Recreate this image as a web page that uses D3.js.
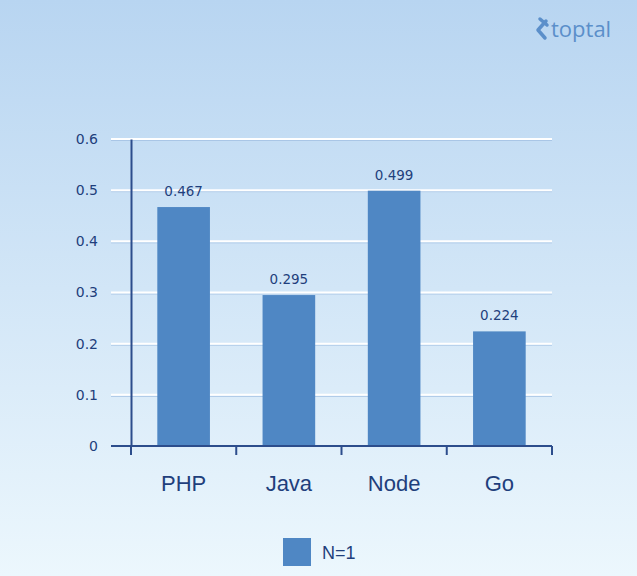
<!DOCTYPE html>
<html>
<head>
<meta charset="utf-8">
<script src="https://cdn.jsdelivr.net/npm/d3@7"></script>
<style>
  body { margin: 0; }
  svg { display: block; font-family: "DejaVu Sans", sans-serif; }
</style>
</head>
<body>
<svg id="chart"></svg>
<script>
const categories = ['PHP', 'Java', 'Node', 'Go']
const values = [0.467, 0.295, 0.499, 0.224]
const yTickValues = [0, 0.1, 0.2, 0.3, 0.4, 0.5, 0.6]
const seriesName = 'N=1'

const width = 637
const height = 576
const margin = { top: 139, right: 85, bottom: 130, left: 131 }
const w = width - margin.left - margin.right
const h = height - margin.top - margin.bottom

const barColor = '#4f87c4'
const axisColor = '#2c4d8c'
const textColor = '#1f3f7c'
const sansLabel = '"Liberation Sans", Arial, sans-serif'

const svg = d3.select('#chart')
  .attr('width', width)
  .attr('height', height)

// background gradient
const defs = svg.append('defs')
const grad = defs.append('linearGradient')
  .attr('id', 'bg')
  .attr('x1', 0).attr('y1', 0)
  .attr('x2', 0).attr('y2', 1)
grad.append('stop').attr('offset', '0%').attr('stop-color', '#b8d5f1')
grad.append('stop').attr('offset', '100%').attr('stop-color', '#ecf7fd')

svg.append('rect')
  .attr('width', width)
  .attr('height', height)
  .attr('fill', 'url(#bg)')

// logo
const logo = svg.append('g').attr('transform', 'translate(536, 30)')
logo.append('path')
  .attr('d', 'M10,-9 L2,0 L9,8 M4,-11 L11,-5')
  .attr('fill', 'none')
  .attr('stroke', '#5b8fca')
  .attr('stroke-width', 3.5)
  .attr('stroke-linecap', 'round')
  .attr('stroke-linejoin', 'round')
logo.append('text')
  .attr('x', 15)
  .attr('y', 7)
  .attr('fill', '#5b8fca')
  .attr('font-family', '"Open Sans", sans-serif')
  .attr('font-size', 22)
  .text('toptal')

const chart = svg.append('g')
  .attr('transform', `translate(${margin.left}, ${margin.top})`)

const x = d3.scaleBand()
  .domain(categories)
  .range([0, w])
  .paddingInner(0.5)
  .paddingOuter(0.25)

const y = d3.scaleLinear()
  .domain([0, 0.6])
  .range([h, 0])

// gridlines
const grid = chart.append('g').attr('class', 'grid')
grid.selectAll('.shade')
  .data(yTickValues.filter(d => d > 0))
  .join('line')
  .attr('class', 'shade')
  .attr('x1', -20).attr('x2', w)
  .attr('y1', d => y(d) + 1.5).attr('y2', d => y(d) + 1.5)
  .attr('stroke', '#a9c6e6')
  .attr('stroke-width', 1)
grid.selectAll('.line')
  .data(yTickValues.filter(d => d > 0))
  .join('line')
  .attr('class', 'line')
  .attr('x1', -20).attr('x2', w)
  .attr('y1', d => y(d)).attr('y2', d => y(d))
  .attr('stroke', '#ffffff')
  .attr('stroke-width', 2)

// bars
chart.selectAll('.bar')
  .data(values)
  .join('rect')
  .attr('class', 'bar')
  .attr('x', (d, i) => x(categories[i]))
  .attr('y', d => y(d))
  .attr('width', x.bandwidth())
  .attr('height', d => h - y(d))
  .attr('fill', barColor)

// value labels
chart.selectAll('.value')
  .data(values)
  .join('text')
  .attr('class', 'value')
  .attr('x', (d, i) => x(categories[i]) + x.bandwidth() / 2)
  .attr('y', d => y(d) - 11)
  .attr('text-anchor', 'middle')
  .attr('fill', textColor)
  .attr('font-size', 13.5)
  .text(d => d3.format('.3f')(d))

// y axis
const yAxis = d3.axisLeft(y)
  .tickValues(yTickValues)
  .tickSize(0)
  .tickPadding(33)
  .tickFormat(d => d === 0 ? '0' : d3.format('.1f')(d))

const yg = chart.append('g')
  .attr('class', 'y axis')
  .call(yAxis)
yg.select('.domain').attr('stroke', axisColor).attr('stroke-width', 2)
yg.selectAll('text')
  .attr('fill', textColor)
  .attr('font-size', 14)
  .attr('font-family', '"DejaVu Sans", sans-serif')

// x axis baseline and ticks at band boundaries
const xBase = chart.append('g')
  .attr('class', 'x axis')
  .attr('transform', `translate(0, ${h})`)
xBase.append('line')
  .attr('x1', -20).attr('x2', w)
  .attr('stroke', axisColor)
  .attr('stroke-width', 2)
const step = x.step()
xBase.selectAll('.tick')
  .data(d3.range(categories.length + 1))
  .join('line')
  .attr('class', 'tick')
  .attr('x1', d => d * step).attr('x2', d => d * step)
  .attr('y1', 0).attr('y2', 9)
  .attr('stroke', axisColor)
  .attr('stroke-width', 2)
xBase.selectAll('.label')
  .data(categories)
  .join('text')
  .attr('class', 'label')
  .attr('x', d => x(d) + x.bandwidth() / 2)
  .attr('y', 45)
  .attr('text-anchor', 'middle')
  .attr('fill', textColor)
  .attr('font-family', sansLabel)
  .attr('font-size', 22)
  .text(d => d)

// legend
const legend = svg.append('g').attr('transform', 'translate(283, 538)')
legend.append('rect')
  .attr('width', 28)
  .attr('height', 28)
  .attr('fill', barColor)
legend.append('text')
  .attr('x', 39)
  .attr('y', 21)
  .attr('fill', textColor)
  .attr('font-family', sansLabel)
  .attr('font-size', 18)
  .text(seriesName)
</script>
</body>
</html>
